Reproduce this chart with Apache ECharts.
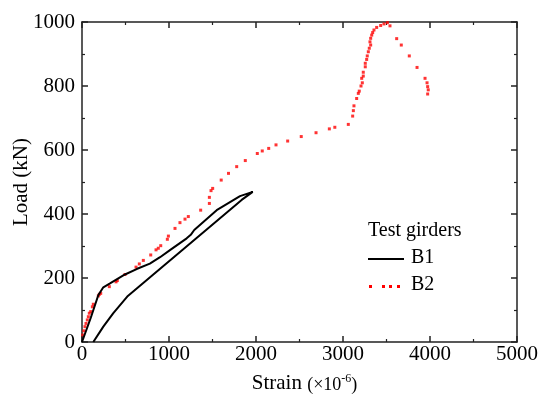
<!DOCTYPE html>
<html>
<head>
<meta charset="utf-8">
<script src="https://cdn.jsdelivr.net/npm/echarts@6/dist/echarts.min.js"></script>
<style>
  html, body { margin: 0; padding: 0; background: #fff; }
  #chart { width: 543px; height: 396px; }
</style>
</head>
<body>
<div id="chart"></div>
<script>
  // B1 曲线（加载 + 卸载）
  var b1Strain = [0, 100, 188, 245, 322, 494, 628, 780, 897, 1011, 1203, 1250, 1290, 1548, 1816, 1962,
    1835, 520, 360, 245, 130];
  var b1Load = [0, 75, 147, 171, 183, 211, 228, 245, 265, 287, 324, 335, 350, 412, 456, 469,
    444, 142, 90, 48, 0];

  // B2 散点
  var b2Strain = [8, 20, 34, 46, 61, 73, 84, 100, 119, 130, 188, 199, 215, 314, 391, 406, 494, 621, 659, 705,
    790, 851, 877, 905, 981, 993, 1069, 1126, 1184, 1222, 1364, 1464, 1464, 1483, 1502, 1600, 1684, 1778,
    1877, 2015, 2072, 2146, 2230, 2364, 2520, 2690, 2843, 2906, 3061, 3111, 3119, 3126, 3157, 3176, 3187,
    3207, 3222, 3215, 3233, 3233, 3256, 3256, 3272, 3279, 3291, 3302, 3318, 3310, 3318, 3330, 3341, 3356,
    3387, 3433, 3471, 3510, 3540, 3617, 3670, 3762, 3851, 3943, 3966, 3973, 3980, 3973];
  var b2Load = [22, 35, 48, 58, 69, 79, 90, 95, 110, 118, 144, 149, 152, 173, 188, 192, 211, 234, 244, 255,
    272, 288, 293, 301, 321, 331, 355, 373, 384, 392, 412, 433, 452, 473, 480, 506, 527, 548,
    567, 589, 597, 605, 616, 628, 642, 654, 666, 671, 680, 706, 723, 738, 761, 777, 784,
    800, 810, 824, 831, 843, 860, 871, 883, 894, 907, 918, 928, 938, 949, 959, 967, 975,
    983, 989, 994, 998, 988, 948, 928, 894, 858, 824, 810, 798, 788, 775];

  var xTicks = [0, 1000, 2000, 3000, 4000, 5000];
  var yTicks = [0, 200, 400, 600, 800, 1000];

  function zip(a, b) {
    return a.map(function (v, i) { return [v, b[i]]; });
  }

  var font = "Liberation Serif";
  var axisColor = "#222";

  function makeAxis(pos, ticks, showLabel, extra) {
    return Object.assign({
      type: "value",
      position: pos,
      min: ticks[0],
      max: ticks[ticks.length - 1],
      interval: ticks[1] - ticks[0],
      axisLine: { show: true, onZero: false, lineStyle: { color: axisColor, width: 1.5 } },
      axisTick: { show: true, inside: true, length: 6, lineStyle: { color: axisColor, width: 1.5 } },
      minorTick: { show: true, splitNumber: 2, length: 3, lineStyle: { color: axisColor, width: 1.2 } },
      splitLine: { show: false },
      axisLabel: { show: showLabel, color: "#000", fontFamily: font, fontSize: 21 }
    }, extra || {});
  }

  // 刻度文字不要千分位
  function plain(v) { return String(v); }

  var myChart = echarts.init(document.getElementById("chart"));
  var option = {
    animation: false,
    backgroundColor: "#fff",
    grid: { left: 82, right: 26, top: 22, bottom: 54, containLabel: false, outerBoundsMode: "none" },
    xAxis: [
      makeAxis("bottom", xTicks, true, {
        name: "{a|Strain }{b|(×10}{c|-6}{b|)}",
        nameLocation: "middle",
        nameGap: 31,
        nameMoveOverlap: false,
        nameTextStyle: {
          padding: [0, 0, 0, 10],
          rich: {
            a: { fontFamily: font, fontSize: 21, color: "#000", verticalAlign: "bottom" },
            b: { fontFamily: font, fontSize: 18, color: "#000", verticalAlign: "bottom" },
            c: { fontFamily: font, fontSize: 12, color: "#000", verticalAlign: "top" }
          }
        },
        axisLabel: { show: true, color: "#000", fontFamily: font, fontSize: 21, margin: 2, formatter: plain }
      }),
      makeAxis("top", xTicks, false)
    ],
    yAxis: [
      makeAxis("left", yTicks, true, {
        name: "Load (kN)",
        nameLocation: "middle",
        nameGap: 50,
        nameMoveOverlap: false,
        nameTextStyle: { fontFamily: font, fontSize: 21, color: "#000" },
        axisLabel: { show: true, color: "#000", fontFamily: font, fontSize: 21, margin: 7, formatter: plain }
      }),
      makeAxis("right", yTicks, false)
    ],
    series: [
      {
        name: "B1",
        type: "line",
        data: zip(b1Strain, b1Load),
        showSymbol: false,
        smooth: false,
        lineStyle: { color: "#000", width: 2 }
      },
      {
        name: "B2",
        type: "scatter",
        data: zip(b2Strain, b2Load),
        symbol: "rect",
        symbolSize: 3,
        itemStyle: { color: "#ff0000" }
      }
    ],
    // 图例 手动画
    graphic: [
      { type: "text", left: 368, top: 221, style: { text: "Test girders", font: "20px " + font, fill: "#000" } },
      { type: "line", shape: { x1: 368, y1: 259, x2: 404, y2: 259 }, style: { stroke: "#000", lineWidth: 2 } },
      { type: "text", left: 411, top: 248, style: { text: "B1", font: "20px " + font, fill: "#000" } },
      { type: "rect", shape: { x: 369, y: 285, width: 3, height: 3 }, style: { fill: "#ff0000" } },
      { type: "rect", shape: { x: 382, y: 285, width: 3, height: 3 }, style: { fill: "#ff0000" } },
      { type: "rect", shape: { x: 389, y: 285, width: 3, height: 3 }, style: { fill: "#ff0000" } },
      { type: "rect", shape: { x: 397, y: 285, width: 3, height: 3 }, style: { fill: "#ff0000" } },
      { type: "text", left: 411, top: 275, style: { text: "B2", font: "20px " + font, fill: "#000" } }
    ]
  };
  myChart.clear();
  myChart.setOption(option);
</script>
</body>
</html>
